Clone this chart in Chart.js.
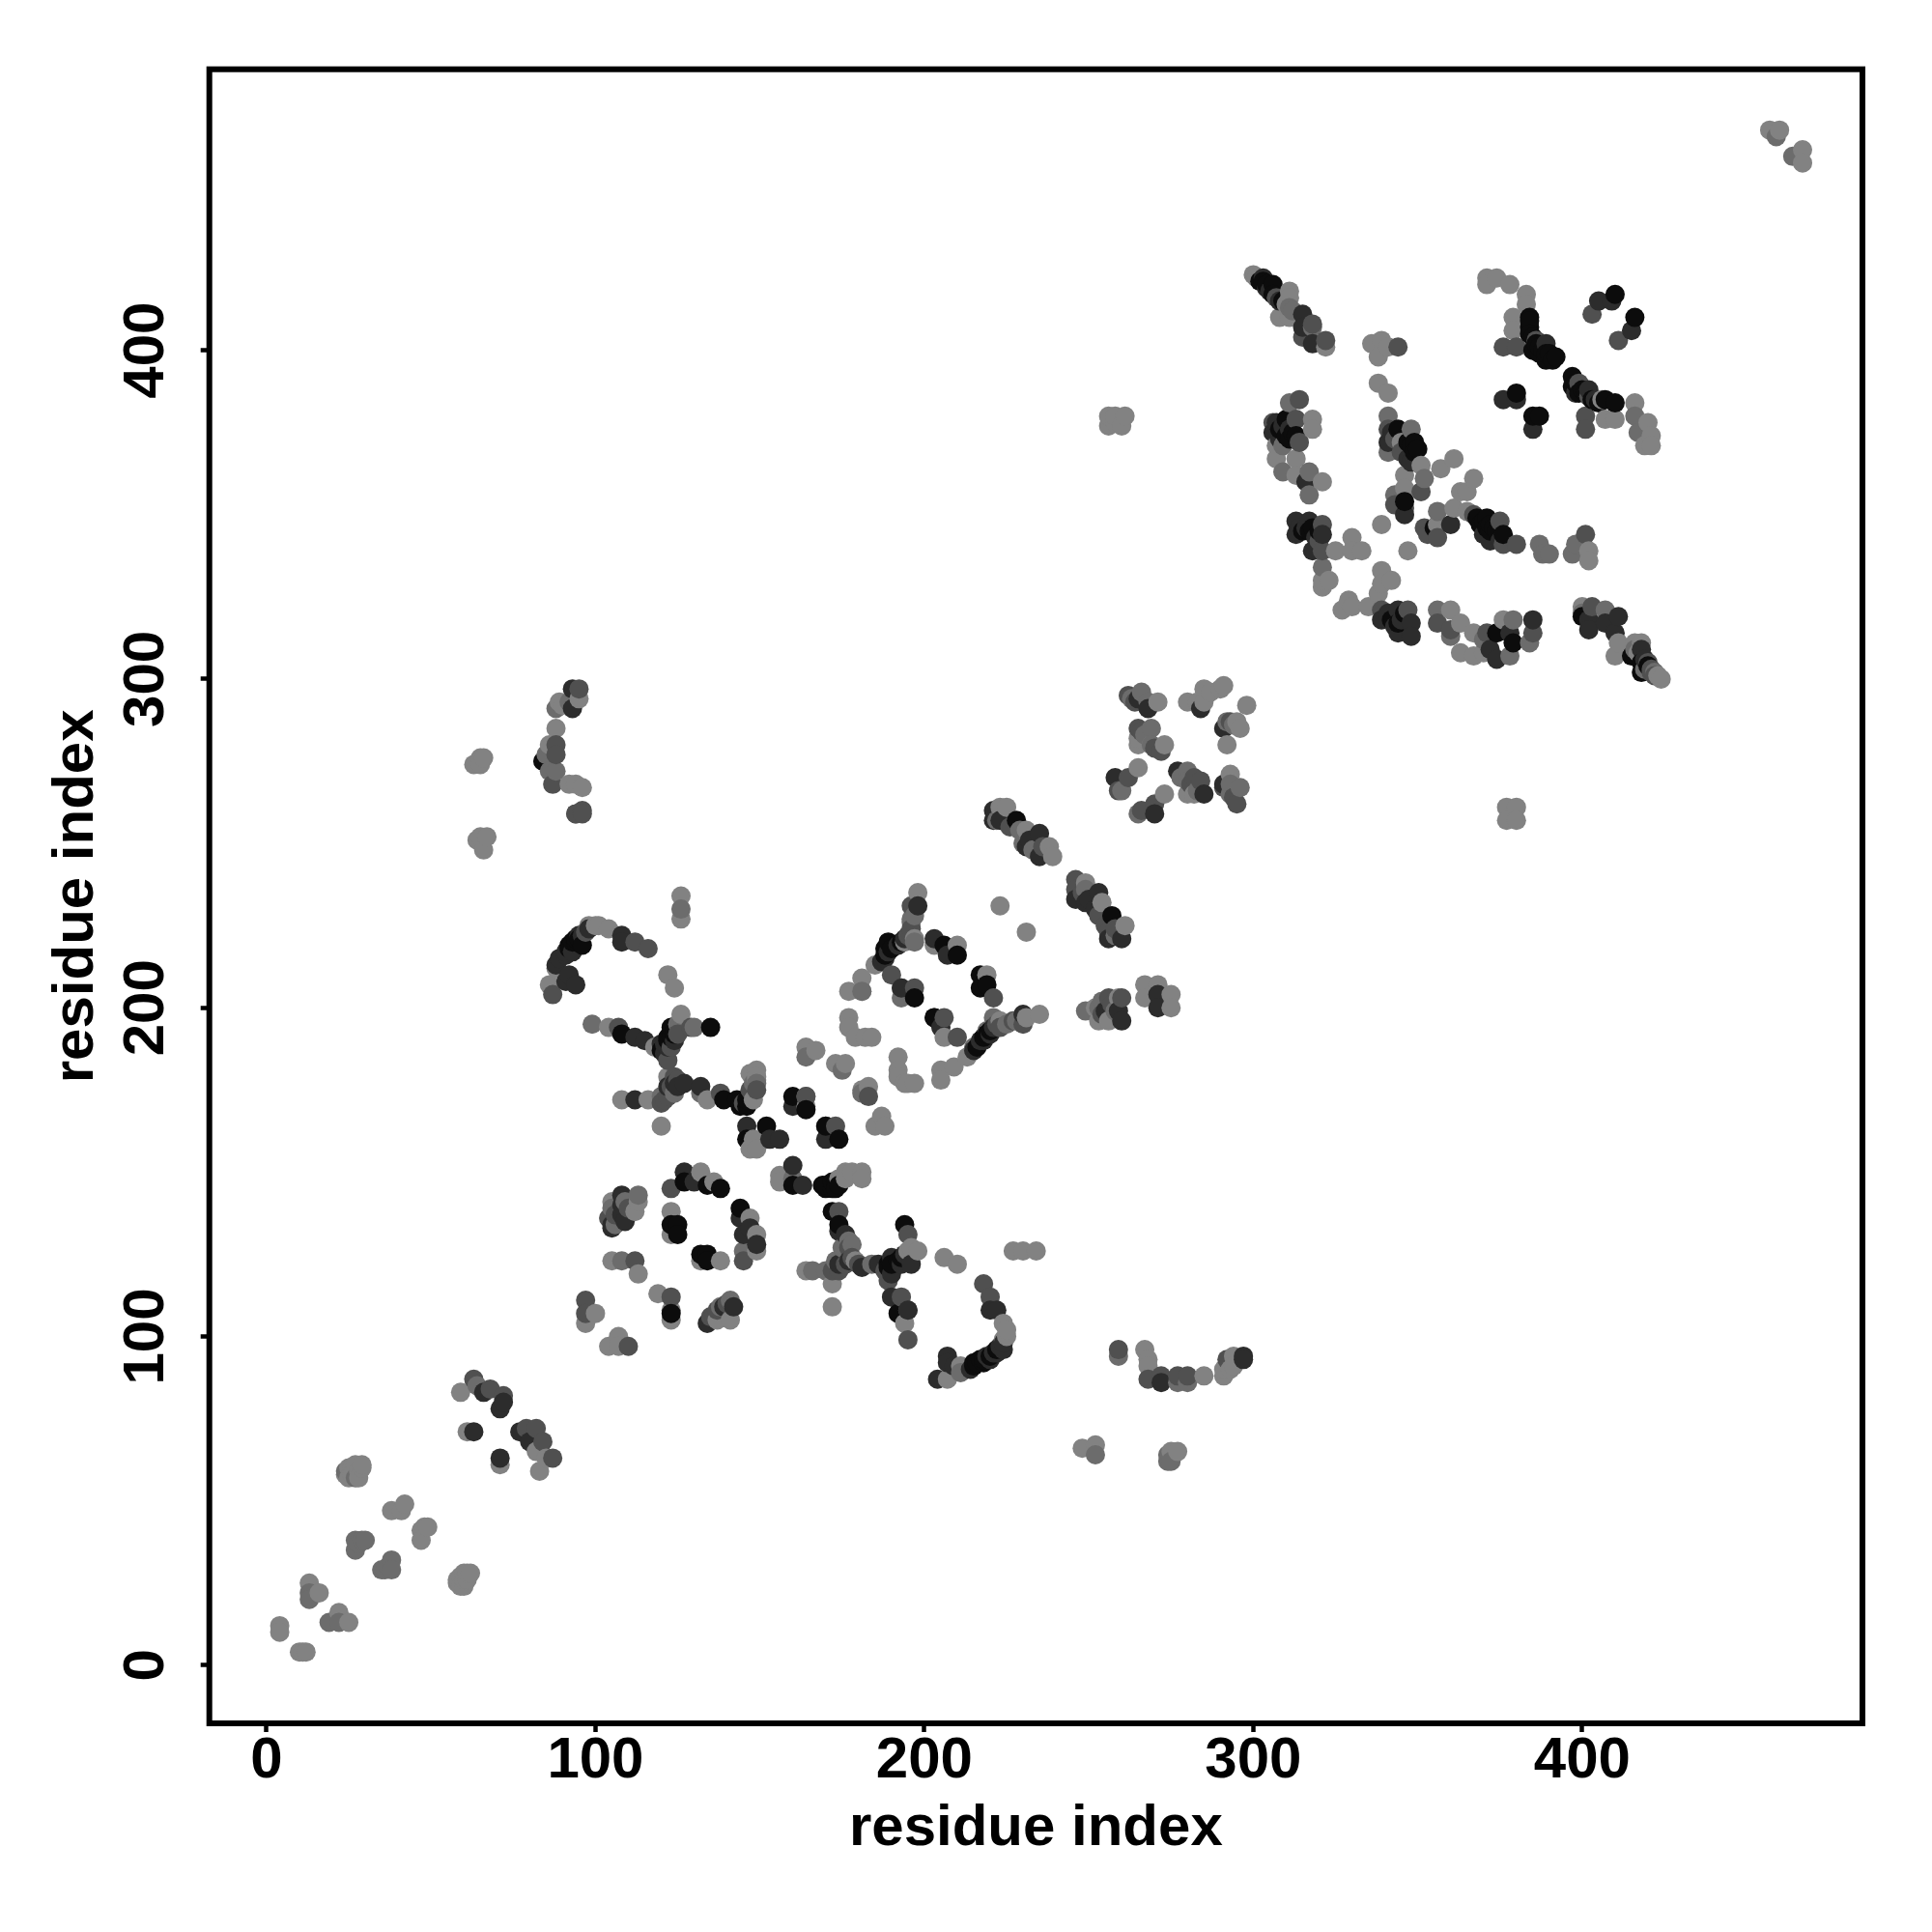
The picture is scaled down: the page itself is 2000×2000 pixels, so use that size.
<style>body{margin:0}canvas{display:block}</style>
<canvas id="myChart" width="2000" height="2000"></canvas>

<script src="https://cdn.jsdelivr.net/npm/chart.js"></script>
<script>
// contacts, one list per grey level, [residue x, residue y]
const tickValues = [0, 100, 200, 300, 400];
const axisTitle = "residue index";

const lightPoints = [
[4,12],[4,10],[10,4],[11,4],[12,4],[13,25],[16,22],[22,16],[25,13],[24,58],[25,60],[25,57],[26,60],[27,61],[28,59],[29,60],[29,61],[28,57],[26,58],
[38,47],[41,47],[42,49],[47,41],[47,38],[48,42],[49,42],[58,25],[58,26],[59,27],[60,24],[61,26],[62,28],[60,28],[61,28],[59,24],[60,26],
[59,83],[61,71],[71,61],[82,65],[83,59],[85,63],
[63,274],[65,276],[66,276],[65,274],[64,251],[67,252],[66,248],[65,252],
[86,207],[88,212],[89,293],[90,292],[95,294],[88,285],[86,280],[92,268],[94,268],[96,267],
[98,225],[100,225],[104,224],[100,107],[105,141],[113,141],[112,138],[105,123],[113,119],[97,104],[107,100],[104,97],[107,97],[119,113],
[104,194],[116,172],[108,172],[122,210],[124,206],[126,234],[126,227],[126,198],[122,179],[118,188],[120,164],[123,138],[123,131],[123,105],[123,108],
[132,150],[136,147],[132,123],[134,172],[138,123],[141,105],[137,105],[147,136],[149,131],[149,126],
[147,180],[148,172],[148,160],[149,157],[147,157],[149,181],[149,178],[156,149],[156,147],[164,170],[164,120],
[164,188],[167,187],[173,183],[176,183],[170,164],[172,116],[172,109],[174,148],[176,150],[178,150],[181,150],[176,148],[181,148],[179,123],[183,176],[181,175],
[177,197],[177,194],[179,191],[182,191],[184,191],[177,205],[181,209],[181,205],[185,213],[187,167],[185,164],[188,164],[192,185],[192,181],[192,179],[194,177],[197,177],[195,177],
[194,220],[195,126],[198,126],[194,104],[198,235],[197,221],[205,181],[205,178],[209,182],[213,185],[206,191],[203,219],[210,219],[219,210],
[206,124],[210,122],[211,91],[207,87],[223,196],[224,104],[224,99],[227,126],[230,126],[234,126],[235,198],
[223,261],[225,261],[231,254],[238,249],[239,246],[223,231],[231,223],
[249,238],[254,232],[261,225],[248,66],[252,67],[252,200],[259,203],[253,196],[256,196],
[256,377],[256,380],[258,378],[260,377],[261,380],[258,380],[267,96],[268,93],[268,91],[267,207],[271,207],[275,204],[275,200],[267,203],
[271,293],[280,293],[285,297],[285,293],[291,298],[290,297],[265,273],[265,280],[265,282],[273,265],[273,280],[280,265],[282,265],[269,280],
[275,65],[277,65],[285,88],[291,88],[291,90],[293,90],[294,94],[294,91],[298,292],[296,285],[292,280],[293,271],
[300,423],[311,418],[311,416],[308,410],[311,410],[322,401],[307,371],[307,367],[313,367],[313,362],[321,360],[318,379],[318,376],[325,339],[330,343],[330,339],[333,339],[323,330],[321,328],[321,330],
[329,324],[327,321],[330,322],[335,322],[336,402],[339,403],[341,401],[338,398],[338,390],[341,387],[339,347],[339,333],[342,330],[339,329],[338,326],[345,372],[346,362],[346,358],[347,339],
[351,365],[357,364],[361,367],[367,361],[363,357],[365,357],[356,347],[361,352],[365,351],[360,321],[363,317],[367,314],[363,308],[367,307],[370,308],
[371,422],[374,422],[371,420],[378,420],[383,417],[383,414],[379,410],[379,406],[376,318],[377,261],[380,261],[377,257],[380,257],
[402,339],[402,336],[400,322],[406,385],[407,379],[410,379],[411,311],[410,307],[416,384],[416,311],[418,311],[420,378],[421,374],[419,371],[421,371],[424,300],
[457,467],[460,467],[467,461],[467,457],
[101,225],[225,100],[225,102],[196,127],[149,179],[231,197],[283,293],[287,296],[301,422],[295,287],[423,301],[310,414],[417,308]
];
const grayPoints = [
[13,22],[13,20],[19,13],[22,13],[24,59],[27,57],[27,38],[27,35],[28,37],[29,38],[30,38],[35,29],[36,29],[37,30],[38,32],[38,29],[64,85],
[85,277],[86,272],[88,291],[92,293],[94,259],[88,272],[106,134],[113,143],[108,123],[99,195],[126,230],[132,174],[130,194],[125,195],[145,126],
[149,177],[164,185],[166,120],[164,173],[160,148],[175,181],[181,174],[170,120],[173,123],[184,122],[197,220],[196,227],[181,205],[193,206],[193,203],[219,193],[221,197],
[215,188],[211,89],[222,257],[230,250],[249,236],[252,64],[249,199],[258,199],[253,200],[266,296],[269,285],[269,280],[260,266],[280,272],[280,269],[296,267],[293,265],[259,94],[265,259],[277,86],[280,86],
[311,384],[309,371],[309,363],[317,363],[317,356],[318,407],[321,334],[341,380],[341,369],[343,356],[348,376],[352,361],[356,351],[356,321],[360,313],[370,312],[378,307],[379,318],[384,311],
[387,341],[388,338],[390,338],[398,341],[397,338],[400,320],[407,321],[416,380],[417,375],[422,302],[464,459],[459,465],
[120,173],[124,174],[148,177],[175,127],[177,129],[178,128],[196,226],[197,228],[228,196],[225,195],[229,254],[233,248],[258,222],[263,294],[268,293],[267,283],[278,270],[283,266],[293,268],[294,286],[292,287],[105,139],[109,141],[138,109],[141,111],[254,202],[311,413],[312,412],[416,309],[419,303],
[274,62],[274,64],[275,62]
];
const midPoints = [
[63,87],[68,84],[72,82],[79,72],[82,72],[84,68],[87,63],[87,204],[88,280],[88,277],[87,268],[95,297],[96,260],[96,259],[94,259],
[97,111],[97,107],[104,136],[112,123],[107,194],[112,220],[116,218],[110,97],[123,145],[123,112],[122,184],[124,179],[123,176],[122,173],[120,171],[125,178],
[129,194],[135,106],[137,108],[138,174],[145,123],[149,175],[164,173],[172,120],[174,138],[177,127],[173,164],[183,173],[189,117],[193,112],[195,108],[195,131],[195,99],
[190,210],[196,231],[197,206],[206,197],[210,191],[218,116],[220,112],[227,196],[230,195],[221,203],
[246,239],[246,236],[253,228],[256,223],[256,203],[259,96],[260,203],[262,295],[265,285],[262,270],[259,266],[272,278],[270,262],[266,260],[284,269],
[268,87],[272,88],[277,88],[280,88],[292,93],[295,262],[314,385],[315,404],[306,378],[313,379],[314,372],[318,408],[322,403],[321,347],[321,339],[339,321],[347,321],
[344,401],[341,376],[345,369],[351,357],[343,353],[346,352],[352,346],[353,344],[356,343],[356,317],[360,315],[367,350],[371,314],[375,348],[376,341],[380,341],[385,314],
[386,403],[376,401],[380,401],[403,411],[399,390],[402,386],[401,380],[401,376],[401,344],[403,322],[411,403],[420,305],[421,302],
[97,223],[121,172],[125,192],[123,188],[147,175],[145,171],[176,122],[174,120],[180,122],[178,124],[188,120],[196,224],[195,222],[222,195],[223,194],[226,255],[236,249],[248,235],[255,225],[258,224],[264,293],[266,284],[270,279],[282,270],[281,268],[291,267],[294,264],[293,287],[106,137],[110,139],[136,106],[140,110],[257,201],[254,198],[307,416],[422,301],[421,303],[320,342],[343,373]
];
const darkPoints = [
[66,83],[72,80],[71,78],[63,71],[71,63],[77,71],[80,68],[92,210],[94,207],[91,208],[91,216],[93,217],[95,222],[93,297],[93,291],
[105,134],[105,133],[108,143],[108,140],[108,137],[108,222],[108,220],[112,191],[115,190],[120,189],[122,188],[127,150],[130,147],[112,172],[124,177],[127,177],[132,176],
[139,109],[142,109],[134,104],[145,131],[149,128],[144,136],[147,133],[146,164],[153,160],[156,160],[160,152],[163,146],[160,170],[174,122],[170,160],[176,131],[174,132],
[186,122],[190,119],[190,112],[188,215],[193,206],[198,231],[203,221],[203,197],[205,194],[207,216],[195,108],[222,108],[220,108],[224,96],[222,95],[220,93],[209,91],[207,94],[207,92],[204,87],[218,190],[220,192],[230,198],
[221,257],[221,260],[223,257],[235,253],[231,249],[235,246],[246,233],[249,232],[253,235],[256,221],[260,221],[255,199],[259,199],[260,196],
[265,294],[268,291],[258,270],[270,259],[272,86],[277,272],[285,265],[284,291],[291,285],[291,268],[297,94],[297,93],[271,204],[271,200],
[303,422],[315,411],[315,407],[318,402],[306,375],[316,360],[313,348],[317,348],[313,344],[321,344],[318,339],[339,318],[344,321],[344,314],[348,317],[348,313],[341,372],[348,366],[346,350],
[360,347],[372,309],[374,306],[376,385],[380,385],[385,376],[385,318],[389,402],[378,314],[402,388],[402,318],[402,315],[405,415],[409,415],[411,319],[410,314],[407,317],[415,406],
[88,213],[89,215],[91,217],[96,222],[98,224],[214,90],[219,94],[221,95],[223,97],[224,98],[121,186],[124,190],[121,189],[190,124],[193,122],[196,122],[194,125],[122,176],[125,176],[177,123],[181,121],[187,214],[189,217],[192,219],[194,221],[215,187],[217,190],[221,194],[232,251],[250,233],[252,230],
[304,419],[305,418],[308,415],[418,309],[419,306],[314,346],[316,346],[319,343],[341,320],[345,318],[343,316],[370,344],[372,342],[375,342],[398,387],[307,378],[311,376],[309,377],[308,373],[342,375],[347,367],[404,385],[109,135]
];
const blackPoints = [
[92,219],[94,220],[96,219],[84,275],[108,192],[122,191],[124,192],[123,194],[125,134],[123,134],[125,131],[127,147],[134,146],[138,145],[134,125],[132,125],[134,123],[135,194],
[123,107],[144,139],[144,171],[143,172],[146,170],[139,172],[146,160],[152,164],[160,173],[164,169],[160,146],[169,146],[170,145],[172,145],[172,138],[174,134],[170,164],[174,160],
[189,122],[193,124],[194,134],[192,107],[189,220],[188,218],[197,203],[203,197],[206,219],[210,216],[217,210],[219,207],[217,206],[216,92],[218,92],[215,91],
[228,257],[257,228],[304,420],[306,420],[306,417],[310,379],[310,374],[313,374],[317,345],[344,376],[344,317],[349,372],[349,369],[346,354],[355,346],[368,349],[371,349],[372,345],[376,344],
[374,314],[379,311],[380,387],[385,380],[387,380],[384,410],[384,407],[385,400],[387,399],[389,397],[392,398],[397,392],[397,389],[399,387],[407,385],[410,384],[410,417],[416,410],[415,307],[418,305],[418,302],[400,319],
[92,218],[93,220],[94,221],[95,221],[215,92],[217,93],[218,93],[220,94],[222,96],[120,187],[122,190],[123,191],[124,193],[189,121],[192,123],[190,122],[144,170],[146,172],[170,146],[172,147],[173,147],[174,146],[173,145],[188,216],[190,218],[193,220],[216,188],[218,191],[219,192],[220,193],
[302,421],[303,421],[309,415],[420,304],[315,345],[318,346],[320,345],[342,318],[346,320],[369,347],[370,348],[372,347],[373,346],[374,345],[371,346],[384,409],[384,405],[385,404],[386,402],[387,401],[388,400],[389,399],[390,399],[391,397],[398,390],[400,388],[401,387],[403,385],[405,384],[308,376],[312,375],[311,373],[347,372],[348,371],[350,370]
];

const greys = [
    [lightPoints, "#828282"],
    [grayPoints, "#6c6c6c"],
    [midPoints, "#505050"],
    [darkPoints, "#2c2c2c"],
    [blackPoints, "#0c0c0c"]
];

// later residues paint over earlier ones
var table = [];
for(var [list, color] of greys){
    for(var p of list){
        table.push({x: p[0], y: p[1], color: color});
    }
}
table.sort((a, b) => a.x - b.x);

const boldFont = {family: "'Liberation Sans'", weight: "bold", size: 60};

var boxPlugin = {
    id: "box",
    afterDraw(chart){
        var a = chart.chartArea;
        var ctx = chart.ctx;
        ctx.save();
        ctx.strokeStyle = "#000";
        ctx.lineWidth = 6;
        ctx.strokeRect(a.left, a.top, a.right - a.left, a.bottom - a.top);
        ctx.restore();
    }
};

var ctx = document.getElementById("myChart").getContext("2d");
var myChart = new Chart(ctx, {
    type: "scatter",
    plugins: [boxPlugin],
    data: {
        datasets: [{
            data: table,
            pointBackgroundColor: table.map(d => d.color),
            pointBorderWidth: 0,
            pointRadius: 10
        }]
    },
    options: {
        animation: false,
        responsive: false,
        layout: {padding: {top: 71.7, right: 72, left: 0, bottom: 0}},
        plugins: {legend: {display: false}, tooltip: {enabled: false}},
        scales: {
            x: {
                min: -17.4,
                max: 485.2,
                afterBuildTicks(scale){ scale.ticks = tickValues.map(v => ({value: v})); },
                afterFit(scale){ scale.height = 216; },
                border: {display: false},
                grid: {drawOnChartArea: false, tickLength: 9, tickWidth: 4.5, tickColor: "#000"},
                ticks: {color: "#000", font: boldFont, padding: -6, autoSkip: false, maxRotation: 0},
                title: {display: true, text: axisTitle, color: "#000", font: boldFont, padding: {top: 0, bottom: 71}}
            },
            y: {
                min: -17.7,
                max: 485.5,
                afterBuildTicks(scale){ scale.ticks = tickValues.map(v => ({value: v})); },
                afterFit(scale){ scale.width = 216.7; },
                border: {display: false},
                grid: {drawOnChartArea: false, tickLength: 9, tickWidth: 4.5, tickColor: "#000"},
                ticks: {color: "#000", font: boldFont, padding: 5, autoSkip: false, minRotation: 90, maxRotation: 90, crossAlign: "center"},
                title: {display: true, text: axisTitle, color: "#000", font: boldFont, padding: {top: 43, bottom: 0}}
            }
        }
    }
});
</script>
